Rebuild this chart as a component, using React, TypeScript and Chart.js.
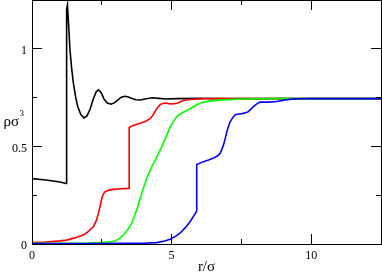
import React, { useEffect, useRef } from "react";
import { Chart, registerables } from "chart.js";
Chart.register(...registerables);

// r/σ positions and ρσ³ values for each curve
const rBlack = [0, 0.5, 1.0, 1.22, 1.24, 1.27, 1.3, 1.36, 1.42, 1.48, 1.56, 1.64, 1.75, 1.86, 1.97, 2.08, 2.2, 2.3, 2.38, 2.48, 2.58, 2.7, 2.83, 2.96, 3.08, 3.2, 3.33, 3.45, 3.58, 3.72, 3.87, 4.05, 4.3, 4.55, 4.8, 5.2, 6, 7, 12.5];
const vBlack = [0.335, 0.328, 0.318, 0.31, 1.2, 1.225, 1.15, 0.995, 0.9, 0.826, 0.755, 0.703, 0.663, 0.646, 0.656, 0.69, 0.745, 0.78, 0.79, 0.775, 0.742, 0.722, 0.716, 0.724, 0.738, 0.752, 0.757, 0.753, 0.746, 0.739, 0.738, 0.743, 0.749, 0.746, 0.743, 0.745, 0.746, 0.745, 0.745];

const rRed = [0, 0.5, 1.0, 1.24, 1.5, 1.84, 2.0, 2.2, 2.3, 2.38, 2.45, 2.5, 2.56, 2.62, 2.75, 2.91, 3.2, 3.48, 3.48, 3.6, 3.87, 4.05, 4.23, 4.32, 4.41, 4.5, 4.59, 4.68, 4.77, 4.95, 5.1, 5.19, 5.3, 5.42, 5.66, 6.13, 7, 12.5];
const vRed = [0.008, 0.01, 0.016, 0.02, 0.03, 0.046, 0.062, 0.089, 0.118, 0.158, 0.2, 0.235, 0.257, 0.268, 0.276, 0.28, 0.283, 0.285, 0.597, 0.606, 0.619, 0.628, 0.642, 0.657, 0.679, 0.7, 0.714, 0.72, 0.722, 0.718, 0.719, 0.721, 0.728, 0.735, 0.74, 0.744, 0.745, 0.745];

const rGreen = [0, 1, 2, 2.5, 2.97, 3.15, 3.27, 3.42, 3.57, 3.75, 3.93, 4.11, 4.29, 4.47, 4.65, 4.83, 4.95, 5.06, 5.19, 5.3, 5.48, 5.6, 5.72, 5.9, 6.14, 6.4, 6.74, 7.2, 7.57, 8.5, 12.5];
const vGreen = [0.003, 0.003, 0.005, 0.008, 0.014, 0.03, 0.046, 0.072, 0.106, 0.174, 0.26, 0.337, 0.396, 0.445, 0.5, 0.559, 0.6, 0.627, 0.653, 0.665, 0.68, 0.687, 0.698, 0.713, 0.727, 0.733, 0.737, 0.741, 0.743, 0.745, 0.745];

const rBlue = [0, 2, 3.5, 4.0, 4.47, 4.75, 4.95, 5.15, 5.3, 5.5, 5.66, 5.8, 5.9, 5.9, 6.14, 6.35, 6.5, 6.65, 6.74, 6.8, 6.86, 6.92, 6.98, 7.04, 7.1, 7.2, 7.28, 7.4, 7.52, 7.65, 7.75, 7.85, 7.93, 8.05, 8.17, 8.47, 8.77, 9.07, 9.3, 9.6, 10, 12.5];
const vBlue = [0.002, 0.002, 0.003, 0.004, 0.007, 0.015, 0.024, 0.04, 0.055, 0.085, 0.114, 0.145, 0.169, 0.407, 0.422, 0.432, 0.44, 0.452, 0.465, 0.485, 0.508, 0.54, 0.576, 0.605, 0.627, 0.65, 0.662, 0.666, 0.668, 0.672, 0.678, 0.692, 0.704, 0.718, 0.727, 0.727, 0.73, 0.738, 0.742, 0.744, 0.745, 0.745];

const xLabelValues = [0, 5, 10];
const xTickLabels = ["0", "5", "10"];
const yLabelValues = [0, 0.5, 1];
const yTickLabels = ["0", "0.5", "1"];
const xTitle = "r/σ";
const yTitleMain = "ρσ";
const yTitleSup = "3";

const SERIF = '"Liberation Serif", "DejaVu Serif", serif';

const pts = (xs: number[], ys: number[]) => xs.map((x, i) => ({ x, y: ys[i] }));
const findLabel = (vals: number[], labels: string[], v: number) => {
  const i = vals.findIndex((a) => Math.abs(a - v) < 1e-6);
  return i >= 0 ? labels[i] : "";
};

const framePlugin = {
  id: "frame",
  afterDatasetsDraw(chart: any) {
    const { ctx, chartArea: a, scales } = chart;
    ctx.save();
    ctx.strokeStyle = "#000";
    ctx.lineWidth = 1;
    ctx.strokeRect(a.left + 0.5, a.top + 0.5, a.right - a.left, a.bottom - a.top);
    ctx.beginPath();
    const xs = scales.x;
    xs.ticks.forEach((t: any) => {
      const major = findLabel(xLabelValues, xTickLabels, t.value) !== "";
      const len = major ? 10 : 5;
      const p = Math.floor(xs.getPixelForValue(t.value)) + 0.5;
      ctx.moveTo(p, a.bottom);
      ctx.lineTo(p, a.bottom - len);
      ctx.moveTo(p, a.top);
      ctx.lineTo(p, a.top + len);
    });
    const ys = scales.y;
    ys.ticks.forEach((t: any) => {
      const major = findLabel(yLabelValues, yTickLabels, t.value) !== "";
      const len = major ? 10 : 5;
      const p = Math.floor(ys.getPixelForValue(t.value)) + 0.5;
      ctx.moveTo(a.left, p);
      ctx.lineTo(a.left + len, p);
      ctx.moveTo(a.right, p);
      ctx.lineTo(a.right - len, p);
    });
    ctx.stroke();
    ctx.fillStyle = "#000";
    ctx.font = "15px " + SERIF;
    ctx.textAlign = "center";
    ctx.textBaseline = "alphabetic";
    ctx.fillText(xTitle, (a.left + a.right) / 2, 271);
    ctx.textAlign = "right";
    ctx.fillText(yTitleMain, 19, 126);
    ctx.textAlign = "left";
    ctx.font = "9px " + SERIF;
    ctx.fillText(yTitleSup, 19.5, 115.5);
    ctx.restore();
  },
};

export default function App() {
  const ref = useRef<HTMLCanvasElement>(null);
  useEffect(() => {
    if (!ref.current) return;
    const tickFont = { family: SERIF, size: 12 };
    const common = { pointRadius: 0, tension: 0, fill: false, borderWidth: 1.6 };
    const chart = new Chart(ref.current, {
      type: "line",
      data: {
        datasets: [
          { data: pts(rBlack, vBlack), borderColor: "#000000", order: 3, ...common },
          { data: pts(rRed, vRed), borderColor: "#ff0000", order: 2, ...common },
          { data: pts(rGreen, vGreen), borderColor: "#00ff00", order: 1, ...common },
          { data: pts(rBlue, vBlue), borderColor: "#0000ff", order: 0, ...common },
        ],
      },
      options: {
        animation: false,
        responsive: false,
        layout: { padding: { left: 0, top: 0, right: 1, bottom: 0 } },
        plugins: { legend: { display: false }, tooltip: { enabled: false } },
        scales: {
          x: {
            type: "linear",
            min: 0,
            max: 12.5,
            grid: { display: false, drawTicks: false },
            border: { display: false },
            ticks: {
              stepSize: 2.5,
              autoSkip: false,
              maxRotation: 0,
              padding: 5,
              color: "#000",
              font: tickFont,
              callback: (v: any) => findLabel(xLabelValues, xTickLabels, Number(v)),
            },
            afterFit: (s: any) => {
              s.height = 29;
              s.paddingLeft = 0;
              s.paddingRight = 0;
            },
          },
          y: {
            type: "linear",
            min: 0,
            max: 1.25,
            grid: { display: false, drawTicks: false },
            border: { display: false },
            ticks: {
              stepSize: 0.25,
              autoSkip: false,
              padding: 5,
              labelOffset: 2,
              color: "#000",
              font: tickFont,
              callback: (v: any) => findLabel(yLabelValues, yTickLabels, Number(v)),
            },
            afterFit: (s: any) => {
              s.width = 32;
              s.paddingTop = 0;
              s.paddingBottom = 0;
            },
          },
        },
      } as any,
      plugins: [framePlugin],
    });
    return () => chart.destroy();
  }, []);
  return (
    <div style={{ position: "absolute", left: 0, top: 0, width: 382, height: 273, background: "#fff" }}>
      <canvas ref={ref} width={382} height={273} style={{ display: "block" }} />
    </div>
  );
}
